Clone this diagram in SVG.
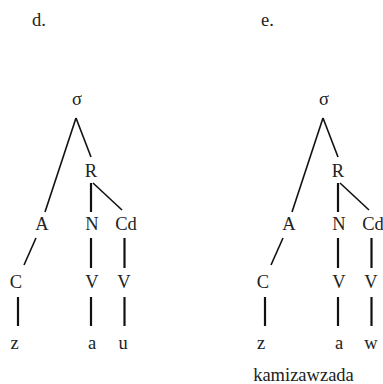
<svg xmlns="http://www.w3.org/2000/svg" width="383" height="384" viewBox="0 0 383 384">
<style>
text{font-family:"Liberation Serif","Times New Roman",Tinos,"DejaVu Serif",serif;font-size:18.5px;fill:#222;text-anchor:middle}
.lbl{text-anchor:start}
.v{stroke:#111;stroke-width:2.2;fill:none}
.d{stroke:#111;stroke-width:1.6;fill:none}
</style>
<rect width="383" height="384" fill="#fff"/>
<g id="connectors">
  <g id="conn-d">
    <line class="d" x1="76" y1="118" x2="45" y2="212"/>
    <line class="d" x1="76" y1="118" x2="91" y2="157"/>
    <line class="v" x1="91" y1="183" x2="91" y2="212"/>
    <line class="d" x1="93" y1="183" x2="122" y2="210"/>
    <line class="d" x1="36" y1="238" x2="24" y2="265"/>
    <line class="v" x1="18" y1="297" x2="18" y2="326"/>
    <line class="v" x1="91" y1="238" x2="91" y2="268"/>
    <line class="v" x1="124.5" y1="238" x2="124.5" y2="268"/>
    <line class="v" x1="91" y1="297" x2="91" y2="326"/>
    <line class="v" x1="124.5" y1="297" x2="124.5" y2="326"/>
  </g>
  <g id="conn-e" transform="translate(247,0)">
    <line class="d" x1="76" y1="118" x2="45" y2="212"/>
    <line class="d" x1="76" y1="118" x2="91" y2="157"/>
    <line class="v" x1="91" y1="183" x2="91" y2="212"/>
    <line class="d" x1="93" y1="183" x2="122" y2="210"/>
    <line class="d" x1="36" y1="238" x2="24" y2="265"/>
    <line class="v" x1="18" y1="297" x2="18" y2="326"/>
    <line class="v" x1="91" y1="238" x2="91" y2="268"/>
    <line class="v" x1="124.5" y1="238" x2="124.5" y2="268"/>
    <line class="v" x1="91" y1="297" x2="91" y2="326"/>
    <line class="v" x1="124.5" y1="297" x2="124.5" y2="326"/>
  </g>
</g>
<g id="label-d"><text class="lbl" x="32" y="26">d.</text></g>
<g id="d-sigma"><text x="77" y="105">σ</text></g>
<g id="d-R"><text x="91" y="177">R</text></g>
<g id="d-A"><text x="42" y="230">A</text></g>
<g id="d-N"><text x="92" y="230">N</text></g>
<g id="d-Cd"><text x="126" y="230">Cd</text></g>
<g id="d-C"><text x="16" y="288">C</text></g>
<g id="d-V1"><text x="92" y="288">V</text></g>
<g id="d-V2"><text x="124" y="288">V</text></g>
<g id="d-z"><text x="14.5" y="349">z</text></g>
<g id="d-a"><text x="92" y="349">a</text></g>
<g id="d-u"><text x="123" y="349">u</text></g>

<g id="label-e"><text class="lbl" x="261" y="26">e.</text></g>
<g id="e-sigma"><text x="324" y="105">σ</text></g>
<g id="e-R"><text x="338" y="177">R</text></g>
<g id="e-A"><text x="289" y="230">A</text></g>
<g id="e-N"><text x="339" y="230">N</text></g>
<g id="e-Cd"><text x="373" y="230">Cd</text></g>
<g id="e-C"><text x="263" y="288">C</text></g>
<g id="e-V1"><text x="339" y="288">V</text></g>
<g id="e-V2"><text x="371" y="288">V</text></g>
<g id="e-z"><text x="261" y="349">z</text></g>
<g id="e-a"><text x="339" y="349">a</text></g>
<g id="e-w"><text x="371" y="349">w</text></g>
<g id="caption"><text x="303.5" y="381">kamizawzada</text></g>
</svg>
